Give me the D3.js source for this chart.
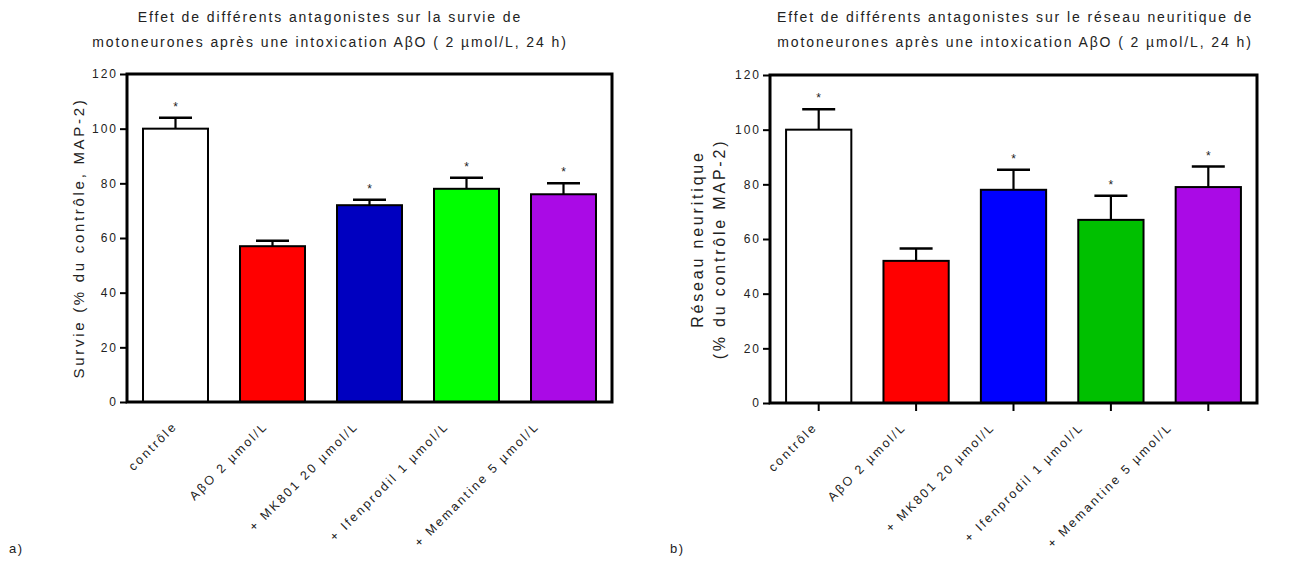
<!DOCTYPE html>
<html><head><meta charset="utf-8">
<script src="https://cdn.jsdelivr.net/npm/d3@7"></script>
<style>
html,body{margin:0;padding:0;background:#fff;}
svg text{font-family:"Liberation Sans",Arial,sans-serif;fill:#222;}
</style></head>
<body><svg id="c" width="1316" height="562"></svg>
<script>
const categories = ["contrôle","AβO 2 µmol/L","+ MK801 20 µmol/L","+ Ifenprodil 1 µmol/L","+ Memantine 5 µmol/L"];
const survieValues = [100, 57, 72, 78, 76];
const survieErrors = [4, 2, 2, 4, 4];
const survieStars = [true, false, true, true, true];
const survieColors = ["#ffffff","#ff0000","#0000c0","#00ff00","#aa0ae6"];
const reseauValues = [100, 52, 78, 67, 79];
const reseauErrors = [7.5, 4.5, 7.3, 8.8, 7.5];
const reseauStars = [true, false, true, true, true];
const reseauColors = ["#ffffff","#ff0000","#0000ff","#00c000","#aa0ae6"];
const yTicks = [0, 20, 40, 60, 80, 100, 120];
const titleA = ["Effet de différents antagonistes sur la survie de","motoneurones après une intoxication AβO ( 2 µmol/L, 24 h)"];
const titleB = ["Effet de différents antagonistes sur le réseau neuritique de","motoneurones après une intoxication AβO ( 2 µmol/L, 24 h)"];
const yLabelA = ["Survie (% du contrôle, MAP-2)"];
const yLabelB = ["Réseau neuritique","(% du contrôle MAP-2)"];

const svg = d3.select("#c");

function panel(o){
  const g = svg.append("g");
  const x = d3.scaleBand().domain(categories).range([o.x0, o.x1]).paddingInner(0.33).paddingOuter(0.165);
  const xl = d3.scalePoint().domain(categories).range(o.labRange);
  const y = d3.scaleLinear().domain([0,120]).range([o.yb, o.yt]);
  // title
  o.title.forEach((t,i)=>{
    g.append("text").attr("x",o.tx).attr("y",22+i*25).attr("text-anchor","middle")
     .attr("font-size",14).attr("letter-spacing","1.9px").text(t);
  });
  // y label
  const n = o.ylab.length;
  o.ylab.forEach((t,i)=>{
    const cx = o.ylx - (n-1-i)*22;
    const cy = (o.yt+o.yb)/2 + (o.ylabShift ? o.ylabShift[i] : 0);
    g.append("text").attr("transform",`translate(${cx},${cy}) rotate(-90)`)
     .attr("text-anchor","middle").attr("font-size",o.ylabSize).attr("letter-spacing",o.ylabSpacing+"px").text(t);
  });
  // bars
  categories.forEach((c,i)=>{
    const v = o.values[i], e = o.errors[i];
    const cx = x(c)+x.bandwidth()/2;
    g.append("line").attr("x1",cx).attr("x2",cx).attr("y1",y(v)).attr("y2",y(v+e)).attr("stroke","#000").attr("stroke-width",2.2);
    g.append("line").attr("x1",cx-16.5).attr("x2",cx+16.5).attr("y1",y(v+e)).attr("y2",y(v+e)).attr("stroke","#000").attr("stroke-width",2.5);
    g.append("rect").attr("x",x(c)).attr("y",y(v)).attr("width",x.bandwidth()).attr("height",y(0)-y(v))
     .attr("fill",o.colors[i]).attr("stroke","#000").attr("stroke-width",2);
    if(o.stars[i]) g.append("text").attr("x",cx).attr("y",y(v+e)-7).attr("text-anchor","middle").attr("font-size",12).text("*");
  });
  // axes
  const ya = d3.axisLeft(y).tickValues(yTicks).tickSize(7).tickPadding(2);
  const gy = g.append("g").attr("transform",`translate(${o.x0},0)`).call(ya);
  gy.select(".domain").remove();
  gy.selectAll(".tick line").attr("stroke","#000").attr("stroke-width",2);
  gy.selectAll(".tick text").attr("font-size",12).attr("letter-spacing","2px").attr("font-family","Liberation Sans, Arial, sans-serif").attr("fill","#222");
  const xa = d3.axisBottom(x).tickSize(o.xticks?8:0).tickFormat("");
  const gx = g.append("g").attr("transform",`translate(0,${o.yb})`).call(xa);
  gx.select(".domain").remove();
  gx.selectAll(".tick line").attr("stroke","#000").attr("stroke-width",2);
  // rotated category labels
  categories.forEach(c=>{
    g.append("text").attr("transform",`translate(${xl(c)},${o.yb+25}) rotate(-45)`)
     .attr("text-anchor","end").attr("font-size",12.5).attr("letter-spacing","2.3px").text(c);
  });
  // frame
  g.append("rect").attr("x",o.x0).attr("y",o.yt).attr("width",o.x1-o.x0).attr("height",o.yb-o.yt)
   .attr("fill","none").attr("stroke","#000").attr("stroke-width",3);
  g.append("text").attr("x",o.lx).attr("y",553).attr("font-size",13).attr("letter-spacing","1.5px").text(o.letter);
}

panel({x0:127,x1:612,yt:74,yb:402,values:survieValues,errors:survieErrors,stars:survieStars,colors:survieColors,
  title:titleA,tx:330,ylab:yLabelA,ylx:84,ylabSize:15,ylabSpacing:2.7,xticks:false,lx:9,letter:"a)",labRange:[178,540]});
panel({x0:770,x1:1257,yt:75,yb:403,values:reseauValues,errors:reseauErrors,stars:reseauStars,colors:reseauColors,
  title:titleB,tx:1015,ylab:yLabelB,ylx:725,ylabSize:16,ylabSpacing:2.8,ylabShift:[0,10],xticks:true,lx:670,letter:"b)",labRange:[818,1173]});
</script></body></html>
